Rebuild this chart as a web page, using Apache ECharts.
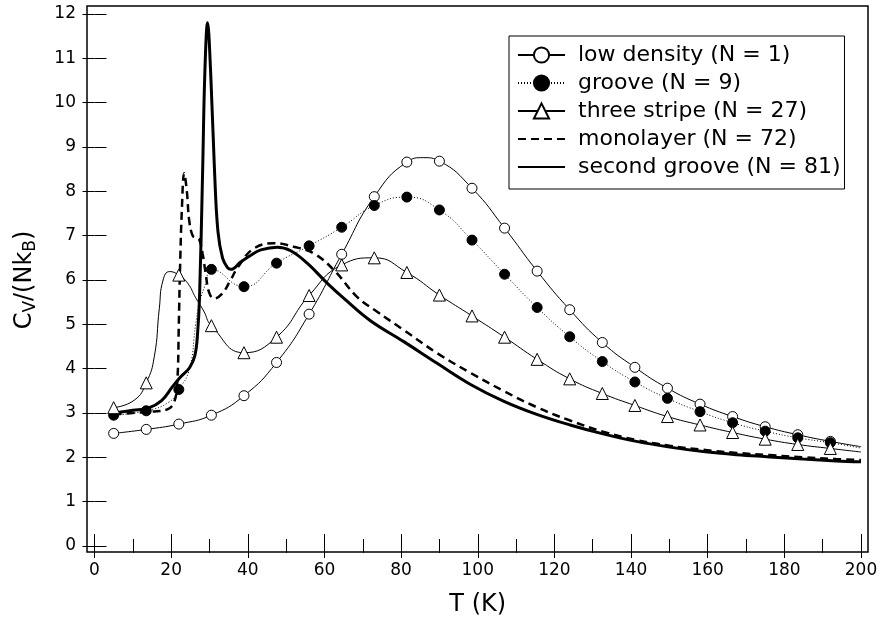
<!DOCTYPE html>
<html>
<head>
<meta charset="utf-8">
<script src="https://cdn.jsdelivr.net/npm/echarts@6/dist/echarts.min.js"></script>
<style>html,body{margin:0;padding:0;background:#fff;}#chart{width:881px;height:622px;}</style>
</head>
<body>
<div id="chart"></div>
<script>
// ---- data ----
const seriesNames = ['low density (N = 1)', 'groove (N = 9)', 'three stripe (N = 27)', 'monolayer (N = 72)', 'second groove (N = 81)'];
const xTicks = [0, 20, 40, 60, 80, 100, 120, 140, 160, 180, 200];
const yTicks = [0, 1, 2, 3, 4, 5, 6, 7, 8, 9, 10, 11, 12];

// temperatures at which marker symbols are drawn
const markT = [5, 13.5, 22, 30.5, 39, 47.5, 56, 64.5, 73, 81.5, 90, 98.5, 107, 115.5, 124, 132.5, 141, 149.5, 158, 166.5, 175, 183.5, 192];

const lowDensity = [2.54, 2.63, 2.75, 2.95, 3.39, 4.14, 5.23, 6.58, 7.88, 8.66, 8.68, 8.07, 7.17, 6.20, 5.33, 4.59, 4.03, 3.56, 3.20, 2.92, 2.69, 2.51, 2.36];
const lowDensityCurveT = [85.8, 200];
const lowDensityCurveC = [8.76, 2.24];

const groove = [2.95, 3.05, 3.53, 6.24, 5.85, 6.38, 6.77, 7.19, 7.68, 7.87, 7.58, 6.90, 6.13, 5.38, 4.72, 4.16, 3.70, 3.33, 3.03, 2.78, 2.59, 2.44, 2.33];
const grooveCurveT = [19.5, 24.7, 26.4, 27.3, 29, 200];
const grooveCurveC = [3.25, 3.97, 5.0, 5.45, 5.92, 2.21];

const threeStripe = [3.12, 3.68, 6.11, 4.97, 4.36, 4.71, 5.65, 6.34, 6.50, 6.17, 5.66, 5.19, 4.71, 4.21, 3.77, 3.44, 3.17, 2.92, 2.73, 2.56, 2.41, 2.29, 2.20];
const threeStripeCurveT = [10.4, 15.6, 16.9, 17.9, 19.6, 24.3, 26.4, 28.5, 200];
const threeStripeCurveC = [3.29, 4.27, 5.35, 6.0, 6.19, 5.93, 5.6, 5.3, 2.12];

const monolayerT = [5, 10, 15, 19, 20.8, 21.6, 22.0, 22.3, 22.8, 23.4, 24.1, 24.7, 25.6, 26.5, 27.3, 28.2, 29, 29.9, 31.2, 33.4, 35.5, 37.5, 41.4, 46.8, 52, 57.2, 62.4, 68.5, 73.3, 80.7, 89.4, 98, 106.7, 115.4, 124.1, 132.7, 141.4, 150.1, 158.8, 167.5, 176.2, 184.9, 193.5, 200];
const monolayerC = [2.97, 3.0, 3.03, 3.08, 3.25, 3.7, 5.0, 6.2, 7.6, 8.41, 8.0, 7.35, 7.0, 6.95, 6.92, 6.6, 6.15, 5.72, 5.58, 5.7, 6.0, 6.3, 6.7, 6.83, 6.75, 6.6, 6.23, 5.62, 5.31, 4.87, 4.35, 3.91, 3.50, 3.13, 2.83, 2.58, 2.39, 2.26, 2.17, 2.10, 2.05, 2.00, 1.96, 1.94];

const secondGrooveT = [5, 10, 14, 17.5, 20.4, 22.5, 24.8, 26.2, 26.9, 27.4, 28.2, 28.8, 29.5, 30.3, 31.3, 32.2, 33.4, 34.7, 35.6, 38.2, 40.8, 43.4, 47.7, 51.2, 55.5, 60.7, 65, 72, 80.7, 89.4, 98, 106.7, 115.4, 124.1, 132.7, 141.4, 150.1, 158.8, 167.5, 176.2, 184.9, 193.5, 200];
const secondGrooveC = [3.0, 3.06, 3.11, 3.28, 3.6, 3.82, 4.02, 4.3, 4.8, 5.6, 8.4, 10.7, 11.8, 10.7, 8.5, 7.1, 6.5, 6.28, 6.24, 6.41, 6.56, 6.68, 6.74, 6.66, 6.38, 5.93, 5.59, 5.08, 4.61, 4.12, 3.65, 3.27, 2.97, 2.73, 2.53, 2.36, 2.23, 2.13, 2.06, 2.01, 1.96, 1.92, 1.90];

// ---- helpers ----
function buildMarked(mt, mc, ct, cc) {
  const items = [];
  mt.forEach((t, i) => items.push({ value: [t, mc[i]] }));
  ct.forEach((t, i) => items.push({ value: [t, cc[i]], symbol: 'none' }));
  items.sort((a, b) => a.value[0] - b.value[0]);
  return items;
}
function pairs(ts, cs) { return ts.map((t, i) => [t, cs[i]]); }

const FONT = 'DejaVu Sans';
const tickStyle = { color: '#000', width: 1 };

const chart = echarts.init(document.getElementById('chart'), null, { renderer: 'canvas' });
const option = {
  animation: false,
  backgroundColor: '#fff',
  textStyle: { fontFamily: FONT, color: '#000' },
  grid: [
    { left: 93.5, right: 20, top: 14, bottom: 76 },
    { left: 87, right: 13, top: 6, bottom: 70, show: true, borderColor: '#000', borderWidth: 1.5, backgroundColor: 'transparent' }
  ],
  legend: {
    orient: 'vertical',
    left: 509, top: 36,
    data: [
      { name: seriesNames[0] },
      { name: seriesNames[1] },
      { name: seriesNames[2] },
      { name: seriesNames[3], itemStyle: { opacity: 0, color: 'transparent', borderWidth: 0 } },
      { name: seriesNames[4], itemStyle: { opacity: 0, color: 'transparent', borderWidth: 0 } }
    ],
    borderColor: '#000', borderWidth: 1,
    padding: [8, 4, 11, 8],
    itemWidth: 47, itemHeight: 19, itemGap: 6,
    textStyle: { fontFamily: FONT, fontSize: 22, lineHeight: 22, color: '#000', padding: [0, 0, 0, 8] }
  },
  xAxis: [
    {
      gridIndex: 0, type: 'value', position: 'bottom', min: xTicks[0], max: xTicks[xTicks.length - 1], interval: 20, offset: 6,
      axisLine: { show: false },
      axisTick: { show: true, inside: true, length: 12, lineStyle: tickStyle },
      minorTick: { show: true, splitNumber: 2, length: 7, lineStyle: tickStyle },
      axisLabel: { color: '#000', fontSize: 17, margin: 10, fontFamily: FONT },
      splitLine: { show: false }, minorSplitLine: { show: false },
      name: 'T (K)', nameLocation: 'middle', nameGap: 41,
      nameTextStyle: { fontFamily: FONT, fontSize: 24, color: '#000' }
    },
    {
      gridIndex: 0, type: 'value', position: 'top', min: xTicks[0], max: xTicks[xTicks.length - 1], interval: 20, offset: 8,
      axisLine: { show: false },
      axisTick: { show: true, inside: true, length: 12, lineStyle: tickStyle },
      minorTick: { show: true, splitNumber: 2, length: 7, lineStyle: tickStyle },
      axisLabel: { show: false },
      splitLine: { show: false }, minorSplitLine: { show: false }
    },
    { gridIndex: 1, type: 'value', show: false, min: 0, max: 1 }
  ],
  yAxis: [
    {
      gridIndex: 0, type: 'value', position: 'left', min: yTicks[0], max: yTicks[yTicks.length - 1], interval: 1, offset: 6.5,
      axisLine: { show: false },
      axisTick: { show: true, inside: true, length: 12, lineStyle: tickStyle },
      axisLabel: { color: '#000', fontSize: 17, margin: 12, fontFamily: FONT },
      splitLine: { show: false },
      name: '{a|C}{s|V}{a|/(Nk}{s|B}{a|)}', nameLocation: 'middle', nameRotate: 90, nameGap: 49,
      nameTextStyle: {
        rich: {
          a: { fontFamily: FONT, fontSize: 24, lineHeight: 26, color: '#000', verticalAlign: 'top' },
          s: { fontFamily: FONT, fontSize: 17, lineHeight: 17, color: '#000', verticalAlign: 'bottom', padding: [14, 0, 0, 0] }
        }
      }
    },
    {
      gridIndex: 0, type: 'value', position: 'right', min: yTicks[0], max: yTicks[yTicks.length - 1], interval: 1, offset: 7,
      axisLine: { show: false },
      axisTick: { show: true, inside: true, length: 12, lineStyle: tickStyle },
      axisLabel: { show: false },
      splitLine: { show: false }
    },
    { gridIndex: 1, type: 'value', show: false, min: 0, max: 1 }
  ],
  series: [
    {
      name: seriesNames[0], type: 'line', xAxisIndex: 0, yAxisIndex: 0,
      data: buildMarked(markT, lowDensity, lowDensityCurveT, lowDensityCurveC),
      smooth: 0.5,
      symbol: 'circle', symbolSize: 10,
      itemStyle: { color: '#fff', borderColor: '#000', borderWidth: 1 },
      lineStyle: { color: '#000', width: 1 }, z: 3
    },
    {
      name: seriesNames[1], type: 'line', xAxisIndex: 0, yAxisIndex: 0,
      data: buildMarked(markT, groove, grooveCurveT, grooveCurveC),
      smooth: 0.5,
      symbol: 'circle', symbolSize: 10,
      itemStyle: { color: '#000', borderColor: '#000', borderWidth: 1 },
      lineStyle: { color: '#000', width: 1, type: [1, 2] }, z: 3
    },
    {
      name: seriesNames[2], type: 'line', xAxisIndex: 0, yAxisIndex: 0,
      data: buildMarked(markT, threeStripe, threeStripeCurveT, threeStripeCurveC),
      smooth: 0.5,
      symbol: 'triangle', symbolSize: 12,
      itemStyle: { color: '#fff', borderColor: '#000', borderWidth: 1 },
      lineStyle: { color: '#000', width: 1 }, z: 3
    },
    {
      name: seriesNames[3], type: 'line', xAxisIndex: 0, yAxisIndex: 0,
      data: pairs(monolayerT, monolayerC),
      smooth: 0.4,
      symbol: 'none',
      itemStyle: { color: '#000' },
      lineStyle: { color: '#000', width: 2.5, type: [8, 5] }, z: 2
    },
    {
      name: seriesNames[4], type: 'line', xAxisIndex: 0, yAxisIndex: 0,
      data: pairs(secondGrooveT, secondGrooveC),
      smooth: 0.4,
      symbol: 'none',
      itemStyle: { color: '#000' },
      lineStyle: { color: '#000', width: 3 }, z: 2
    }
  ]
};
chart.setOption(option);
</script>
</body>
</html>
